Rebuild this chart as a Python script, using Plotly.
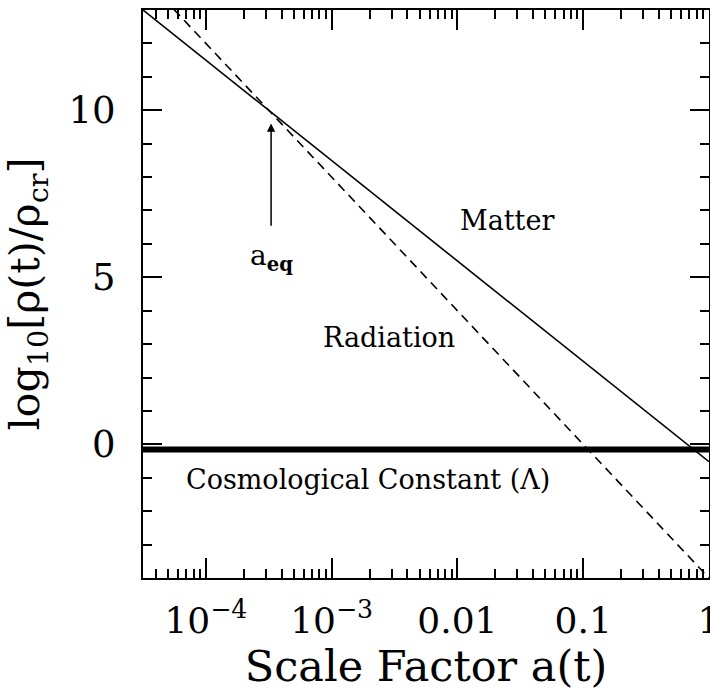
import math
import plotly.graph_objects as go

# Data
scale_factor = [10**-4.5, 1.0]          # a(t) endpoints
matter = [13.0, -0.52]                  # log10 rho_m / rho_cr
radiation = [14.0, -4.0]                # log10 rho_r / rho_cr
lam = [-0.155, -0.155]                  # log10 rho_Lambda / rho_cr
a_eq = 3.3e-4
x_tickvals = [1e-4, 1e-3, 1e-2, 1e-1, 1]
x_ticktext = ["10<sup>\u22124</sup>", "10<sup>\u22123</sup>", "0.01", "0.1", "1"]
x_minor = [m * 10**e for e in range(-5, 0) for m in range(2, 10)]

FONT = "DejaVu Serif"

fig = go.Figure()
fig.add_trace(go.Scatter(x=scale_factor, y=matter, mode="lines",
                         line=dict(color="black", width=1.6), showlegend=False))
fig.add_trace(go.Scatter(x=scale_factor, y=radiation, mode="lines",
                         line=dict(color="black", width=1.6, dash="9px,6px"), showlegend=False))
fig.add_trace(go.Scatter(x=scale_factor, y=lam, mode="lines",
                         line=dict(color="black", width=6), showlegend=False))

ann_font = dict(family=FONT, size=27, color="black")
fig.add_annotation(x=math.log10(a_eq), y=9.6, ax=math.log10(a_eq), ay=6.5,
                   xref="x", yref="y", axref="x", ayref="y", text="",
                   showarrow=True, arrowhead=2, arrowsize=1.1, arrowwidth=1.5, arrowcolor="black")
fig.add_annotation(x=math.log10(a_eq), y=5.6, xref="x", yref="y", showarrow=False,
                   text="a<sub><b>eq</b></sub>", font=dict(family=FONT, size=28, color="black"))
fig.add_annotation(x=math.log10(0.0246), y=6.7, xref="x", yref="y", showarrow=False,
                   text="Matter", font=ann_font)
fig.add_annotation(x=math.log10(0.00284), y=3.2, xref="x", yref="y", showarrow=False,
                   text="Radiation", font=ann_font)
fig.add_annotation(x=math.log10(0.00194), y=-1.05, xref="x", yref="y", showarrow=False,
                   text="Cosmological Constant (\u039b)", font=ann_font)

fig.update_layout(
    width=710, height=694,
    margin=dict(l=143, r=1, t=10, b=116),
    paper_bgcolor="white", plot_bgcolor="white",
    font=dict(family=FONT, color="black"),
)
fig.update_xaxes(
    type="log", range=[-4.5, 0.0005], automargin=False,
    tickmode="array", tickvals=x_tickvals, ticktext=x_ticktext,
    ticks="inside", ticklen=20, tickwidth=1.5, tickcolor="black",
    minor=dict(tickmode="array", tickvals=x_minor, ticks="inside", ticklen=9,
               tickwidth=1.5, tickcolor="black", showgrid=False),
    showline=True, linecolor="black", linewidth=2, mirror="ticks",
    showgrid=False, zeroline=False,
    tickfont=dict(family=FONT, size=36),
    ticklabelstandoff=10, ticklabeloverflow="allow",
    title=dict(text="Scale Factor a(t)", font=dict(family=FONT, size=43), standoff=8),
)
fig.update_yaxes(
    range=[-4, 13], automargin=False,
    tickmode="array", tickvals=[0, 5, 10], ticktext=["0", "5", "10"],
    ticks="inside", ticklen=19, tickwidth=1.5, tickcolor="black",
    minor=dict(dtick=1, tick0=0, ticks="inside", ticklen=9, tickwidth=1.5,
               tickcolor="black", showgrid=False),
    showline=True, linecolor="black", linewidth=2, mirror="ticks",
    showgrid=False, zeroline=False,
    tickfont=dict(family=FONT, size=37),
    ticklabelstandoff=18,
    title=dict(text="log<sub>10</sub>[\u03c1(t)/\u03c1<sub>cr</sub>]",
               font=dict(family=FONT, size=41), standoff=16),
)

fig.write_html("out.html")
